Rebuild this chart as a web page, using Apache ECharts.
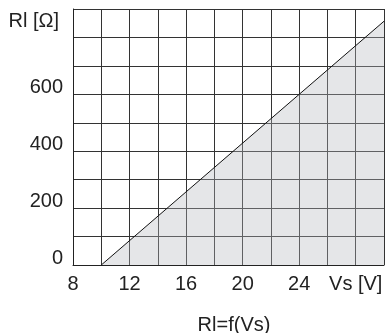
<!DOCTYPE html>
<html><head><meta charset="utf-8">
<script src="https://cdn.jsdelivr.net/npm/echarts@6/dist/echarts.min.js"></script>
<style>html,body{margin:0;padding:0;background:#fff}#c{width:387px;height:333px}</style>
</head><body><div id="c"></div>
<script>
const vs = [10, 24, 30];
const rl = [0, 600, 857];
const xTickLabels = {8:'8',12:'12',16:'16',20:'20',24:'24',28:'Vs [V]'};
const yTickLabels = {0:'0',200:'200',400:'400',600:'600'};
const yName = 'Rl [Ω]';
const title = 'Rl=f(Vs)';

const chart = echarts.init(document.getElementById('c'));
const font = 'Liberation Sans, Arial, sans-serif';
chart.setOption({
  animation:false,
  title:{text:title,left:229,top:310,textAlign:'center',textStyle:{fontFamily:font,fontSize:20,fontWeight:'normal',color:'#222'}},
  grid:{left:73,right:1,top:9,bottom:68},
  xAxis:{type:'value',min:8,max:30,interval:2,
    axisLine:{show:true,lineStyle:{color:'#222',width:1}},axisTick:{show:false},
    splitLine:{show:true,lineStyle:{color:'#333',width:1}},
    axisLabel:{margin:9,fontFamily:font,fontSize:20,color:'#222',formatter:v=>xTickLabels[v]||''}},
  yAxis:{type:'value',min:0,max:900,interval:100,
    name:yName,nameLocation:'end',nameGap:-12,
    nameTextStyle:{fontFamily:font,fontSize:20,color:'#222',align:'right',verticalAlign:'middle',padding:[0,14,0,0]},
    axisLine:{show:true,lineStyle:{color:'#222',width:1}},axisTick:{show:false},
    splitLine:{show:true,lineStyle:{color:'#333',width:1}},
    axisLabel:{margin:10,fontFamily:font,fontSize:20,color:'#222',verticalAlign:'bottom',lineHeight:14,formatter:v=>yTickLabels[v]||''}},
  series:[{type:'line',data:vs.map((x,i)=>[x,rl[i]]),showSymbol:false,
    lineStyle:{color:'#111',width:1},areaStyle:{color:'#b4b7bd',opacity:0.35},z:1}]
});
</script></body></html>
